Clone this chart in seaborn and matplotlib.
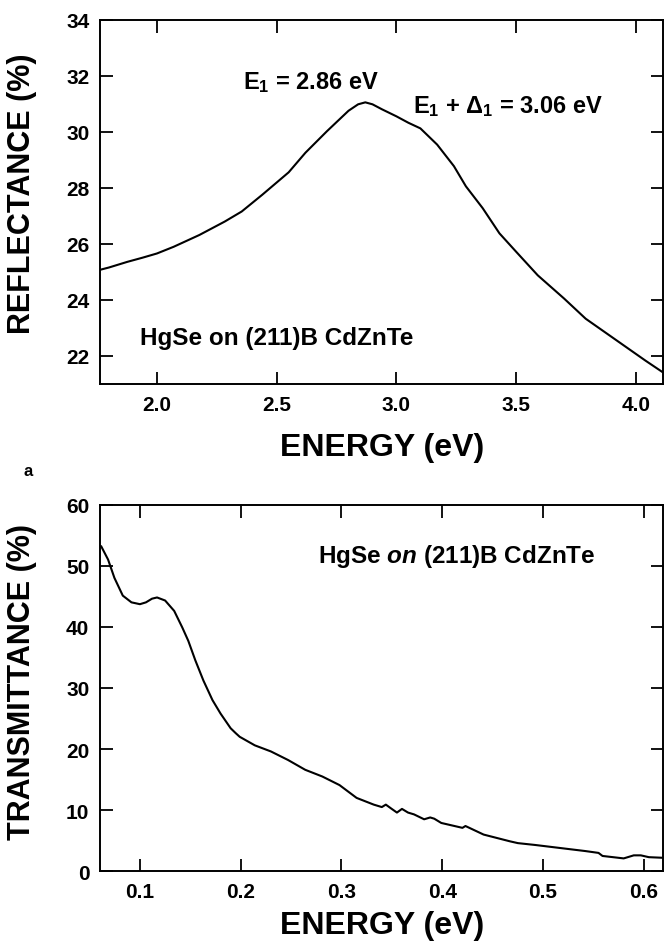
import numpy as np
import pandas as pd
import matplotlib
matplotlib.use('Agg')
import matplotlib.pyplot as plt
import seaborn as sns

# reflectance spectrum (top panel)
refl_energy = [1.764, 1.80, 1.876, 1.94, 2.00, 2.07, 2.177, 2.283, 2.354, 2.44, 2.55, 2.62,
               2.71, 2.80, 2.84, 2.87, 2.90, 2.94, 3.00, 3.05, 3.10, 3.17, 3.24, 3.29, 3.36,
               3.43, 3.50, 3.59, 3.70, 3.79, 3.88, 3.96, 4.04, 4.113]
refl_pct = [25.07, 25.15, 25.35, 25.50, 25.65, 25.89, 26.31, 26.79, 27.15, 27.75, 28.55, 29.25,
            30.02, 30.75, 30.98, 31.05, 30.98, 30.80, 30.55, 30.32, 30.12, 29.54, 28.77, 28.05,
            27.27, 26.37, 25.71, 24.87, 24.04, 23.32, 22.78, 22.30, 21.82, 21.40]

# transmittance spectrum (bottom panel)
trans_energy = [0.0615, 0.0684, 0.0747, 0.083, 0.0916, 0.100, 0.106, 0.112, 0.117, 0.125, 0.134,
                0.142, 0.148, 0.155, 0.163, 0.172, 0.180, 0.190, 0.195, 0.199, 0.214, 0.230,
                0.247, 0.264, 0.281, 0.298, 0.315, 0.332, 0.340, 0.344, 0.349, 0.355, 0.360,
                0.366, 0.372, 0.382, 0.388, 0.392, 0.399, 0.420, 0.423, 0.441, 0.467, 0.475,
                0.492, 0.517, 0.542, 0.555, 0.559, 0.580, 0.590, 0.597, 0.605, 0.619]
trans_pct = [53.2, 51.0, 48.0, 45.1, 44.0, 43.7, 44.0, 44.6, 44.8, 44.3, 42.6,
             39.9, 37.7, 34.5, 31.2, 28.0, 25.8, 23.4, 22.6, 22.0, 20.6, 19.6,
             18.2, 16.6, 15.5, 14.1, 12.0, 10.9, 10.5, 10.9, 10.3, 9.6, 10.2,
             9.6, 9.3, 8.5, 8.8, 8.6, 7.9, 7.1, 7.4, 6.0, 4.9, 4.6,
             4.3, 3.8, 3.3, 3.0, 2.5, 2.1, 2.6, 2.6, 2.3, 2.2]

refl_xticks = [2.0, 2.5, 3.0, 3.5, 4.0]
refl_yticks = [22, 24, 26, 28, 30, 32, 34]
trans_xticks = [0.1, 0.2, 0.3, 0.4, 0.5, 0.6]
trans_yticks = [0, 10, 20, 30, 40, 50, 60]

sns.set_style('ticks')
plt.rcParams['font.family'] = ['Liberation Sans', 'DejaVu Sans']
plt.rcParams.update({'text.color': 'black', 'axes.labelcolor': 'black',
                     'xtick.color': 'black', 'ytick.color': 'black',
                     'mathtext.fontset': 'custom',
                     'mathtext.rm': 'Liberation Sans:bold',
                     'mathtext.it': 'Liberation Sans:italic:bold',
                     'mathtext.bf': 'Liberation Sans:bold'})

fig = plt.figure(figsize=(6.65, 9.45), dpi=100)
ax1 = fig.add_axes([0.151, 0.593, 0.846, 0.385])
ax2 = fig.add_axes([0.151, 0.077, 0.846, 0.388])

df1 = pd.DataFrame({'energy': refl_energy, 'refl': refl_pct})
df2 = pd.DataFrame({'energy': trans_energy, 'trans': trans_pct})
sns.lineplot(data=df1, x='energy', y='refl', ax=ax1, color='black', lw=1.5)
sns.lineplot(data=df2, x='energy', y='trans', ax=ax2, color='black', lw=1.5)

for ax, xt, yt in ((ax1, refl_xticks, refl_yticks), (ax2, trans_xticks, trans_yticks)):
    ax.set_xticks(xt); ax.set_yticks(yt)
    ax.tick_params(direction='in', length=9, width=1.3, top=True, right=True,
                   labelsize=15, pad=8)
    for lbl in ax.get_xticklabels() + ax.get_yticklabels():
        lbl.set_fontweight('bold')
    for s in ax.spines.values():
        s.set_linewidth(1.4); s.set_color('black')
    ax.set_xlabel('ENERGY (eV)', fontsize=23, fontweight='bold', labelpad=6)

ax1.set_xlim(1.764, 4.113); ax1.set_ylim(21.0, 34.0)
ax1.xaxis.set_major_formatter(matplotlib.ticker.FormatStrFormatter('%.1f'))
ax1.set_ylabel('REFLECTANCE (%)', fontsize=22, fontweight='bold')
ax1.yaxis.set_label_coords(-0.112, 0.525)
ax1.xaxis.set_label_coords(0.5, -0.133)
ax1.text(2.36, 31.8, r'E$_1$ = 2.86 eV', fontsize=17, fontweight='bold', va='center', ha='left')
ax1.text(3.07, 30.93, r'E$_1$ + $\Delta_1$ = 3.06 eV', fontsize=17, fontweight='bold',
         va='center', ha='left')
ax1.text(1.93, 22.64, 'HgSe on (211)B CdZnTe', fontsize=17.5, fontweight='bold',
         va='center', ha='left')

ax2.set_xlim(0.0608, 0.619); ax2.set_ylim(0, 60)
ax2.xaxis.set_major_formatter(matplotlib.ticker.FormatStrFormatter('%.1f'))
ax2.set_ylabel('TRANSMITTANCE (%)', fontsize=22, fontweight='bold')
ax2.yaxis.set_label_coords(-0.112, 0.52)
ax2.text(0.277, 51.7, r'HgSe $\mathit{on}$ (211)B CdZnTe', fontsize=17.5, fontweight='bold',
         va='center', ha='left')

fig.text(23 / 665, 1 - 472 / 945, 'a', fontsize=12, fontweight='bold', va='center')

fig.savefig('out.png', dpi=100)
